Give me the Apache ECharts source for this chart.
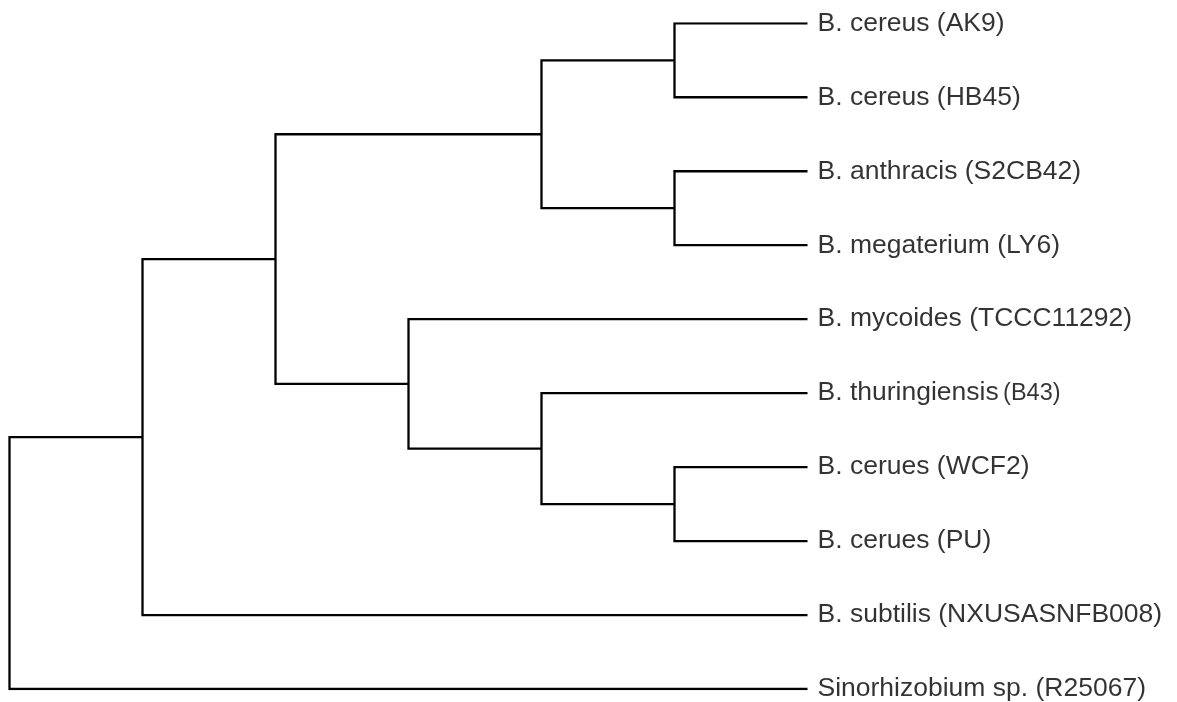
<!DOCTYPE html>
<html>
<head>
<meta charset="utf-8">
<script src="https://cdn.jsdelivr.net/npm/echarts@6/dist/echarts.min.js"></script>
<style>
html,body{margin:0;padding:0;background:#fff;}
#chart{width:1177px;height:702px;}
</style>
</head>
<body>
<div id="chart"></div>
<script>
// Leaves (top to bottom)
const leafNames = [
  'B. cereus (AK9)',
  'B. cereus (HB45)',
  'B. anthracis (S2CB42)',
  'B. megaterium (LY6)',
  'B. mycoides (TCCC11292)',
  'B. thuringiensis (B43)',
  'B. cerues (WCF2)',
  'B. cerues (PU)',
  'B. subtilis (NXUSASNFB008)',
  'Sinorhizobium sp. (R25067)'
];
const leafIds = ['L0','L1','L2','L3','L4','L5','L6','L7','L8','L9'];
const leafDepth = 6;

// Internal nodes: id, depth (cladogram level), children
const nodeIds = ['root','n1','n2','n3','n4','n5','n6','n7','n8'];
const nodeDepth = [0, 1, 2, 4, 5, 5, 3, 4, 5];
const nodeChildren = [
  ['n1','L9'],
  ['n2','L8'],
  ['n3','n6'],
  ['n4','n5'],
  ['L0','L1'],
  ['L2','L3'],
  ['L4','n7'],
  ['L5','n8'],
  ['L6','L7']
];

// ---- build positions from the tree ----
const pos = {};
leafIds.forEach((id, i) => { pos[id] = { x: leafDepth, y: i }; });
function place(id) {
  if (pos[id]) return pos[id];
  const k = nodeIds.indexOf(id);
  const ch = nodeChildren[k].map(place);
  pos[id] = { x: nodeDepth[k], y: (ch[0].y + ch[1].y) / 2 };
  return pos[id];
}
place('root');

// one bracket per internal node: child1 -> node -> child2
const edges = [];
nodeIds.forEach((id, k) => {
  const p = pos[id];
  const a = pos[nodeChildren[k][0]];
  const b = pos[nodeChildren[k][1]];
  edges.push({ coords: [[a.x, a.y], [p.x, a.y], [p.x, b.y], [b.x, b.y]] });
});

const leafPoints = leafIds.map((id, i) => {
  const name = leafNames[i];
  let fmt = name;
  if (name === 'B. thuringiensis (B43)') {
    fmt = '{a|B. thuringiensis}{s| }{b|(B43)}';
  }
  return { value: [pos[id].x, pos[id].y], name: name, label: { formatter: fmt } };
});

const FONT = 'Liberation Sans, Arial, sans-serif';
const chart = echarts.init(document.getElementById('chart'));
chart.setOption({
  animation: false,
  backgroundColor: '#ffffff',
  grid: { left: 9.5, top: 23.3, width: 798, height: 665.7, containLabel: false },
  xAxis: { type: 'value', min: 0, max: 6, show: false },
  yAxis: { type: 'value', min: 0, max: 9, inverse: true, show: false },
  series: [
    {
      type: 'lines',
      coordinateSystem: 'cartesian2d',
      polyline: true,
      silent: true,
      lineStyle: { color: '#000000', width: 2.3, opacity: 1, cap: 'butt', join: 'miter' },
      data: edges
    },
    {
      type: 'scatter',
      symbolSize: 0,
      silent: true,
      data: leafPoints,
      label: {
        show: true,
        position: 'right',
        distance: 10,
        color: '#000000',
        fontFamily: FONT,
        fontSize: 26.5,
        rich: {
          a: { fontFamily: FONT, fontSize: 26.5, color: '#000000' },
          s: { fontFamily: FONT, fontSize: 16, color: '#000000' },
          b: { fontFamily: FONT, fontSize: 23.5, color: '#000000' }
        }
      }
    }
  ]
});
</script>
</body>
</html>
